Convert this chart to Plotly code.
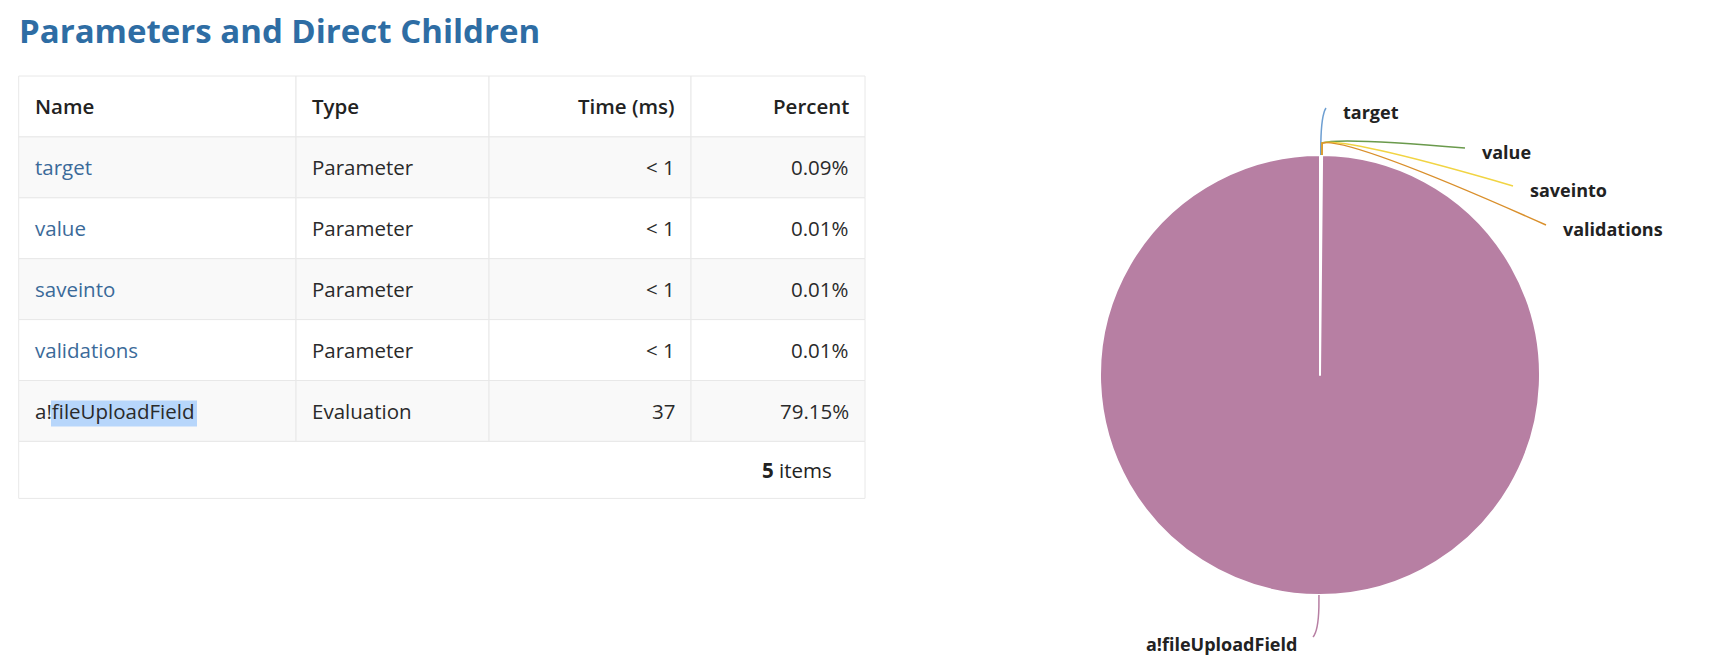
import math
import plotly.graph_objects as go

W, H = 1726, 671

# ---- data ----
columns = ['Name', 'Type', 'Time (ms)', 'Percent']
names = ['target', 'value', 'saveinto', 'validations', 'a!fileUploadField']
types = ['Parameter', 'Parameter', 'Parameter', 'Parameter', 'Evaluation']
times = ['< 1', '< 1', '< 1', '< 1', '37']
percents = [0.09, 0.01, 0.01, 0.01, 79.15]

# ---- style ----
slice_colors = ['#6e9fd2', '#6a9a4c', '#f1d443', '#d98f2b', '#b77fa3']
label_pos = [(1341, 112, 'left'), (1480, 152, 'left'), (1528, 190, 'left'),
             (1561, 229, 'left'), (1299, 644, 'right')]
col_edges = [18.7, 296, 489, 691, 865]
col_align = ['left', 'left', 'right', 'right']
table_top, row_h, footer_h = 76, 60.9, 57
grid = '#e8e8e8'
font = 'Open Sans, Noto Sans, sans-serif'
OFF = 8  # page body margin


def px(x, y):
    return (x - OFF) / W, 1 - (y - OFF) / H


fig = go.Figure()
shapes = []
annotations = []


def rect(x0, y0, x1, y1, fill, line=None, layer='below'):
    a, b = px(x0, y0)
    c, d = px(x1, y1)
    shapes.append(dict(type='rect', xref='paper', yref='paper', x0=a, x1=c, y0=d, y1=b,
                       fillcolor=fill, layer=layer,
                       line=dict(color=line or 'rgba(0,0,0,0)', width=1 if line else 0)))


def text(x, y, s, anchor, size, color, weight=400):
    a, b = px(x, y)
    annotations.append(dict(x=a, y=b, xref='paper', yref='paper', text=s, showarrow=False,
                            xanchor=anchor, yanchor='middle',
                            font=dict(family=font, size=size, color=color, weight=weight)))


# ---- table ----
rows = [[n, t, tm, f'{p:.2f}%'] for n, t, tm, p in zip(names, types, times, percents)]
n_rows = len(rows) + 1
for r in range(n_rows):
    y0 = table_top + r * row_h
    fill = '#f9f9f9' if r % 2 == 1 else 'white'
    for c in range(len(columns)):
        rect(col_edges[c], y0, col_edges[c + 1], y0 + row_h, fill, grid)
        cells = columns if r == 0 else rows[r - 1]
        if r == 0:
            color, weight = '#222222', 600
        elif c == 0 and types[r - 1] == 'Parameter':
            color, weight = '#3b6a99', 400
        else:
            color, weight = '#2a2a2a', 400
        tx = col_edges[c] + 14 if col_align[c] == 'left' else col_edges[c + 1] - 14
        if r == n_rows - 1 and c == 0:
            # selection highlight over "fileUploadField"
            rect(51, y0 + 20, 197, y0 + 46, '#b7d6fb')
        text(tx, y0 + row_h / 2, cells[c], col_align[c], 20.5, color, weight)

fy0 = table_top + n_rows * row_h
rect(col_edges[0], fy0, col_edges[-1], fy0 + footer_h, 'white', grid)
text(834, fy0 + footer_h / 2, f'<b>{len(names)}</b> items', 'right', 20.5, '#222222')

# ---- title ----
text(17, 30, 'Parameters and Direct Children', 'left', 33, '#2e6da4', 700)

# ---- pie ----
cx, cy, R = 1320, 375, 220
dx0, dy1 = px(cx - R, cy - R)
dx1, dy0 = px(cx + R, cy + R)
fig.add_trace(go.Pie(
    labels=names, values=percents, sort=False, direction='clockwise',
    marker=dict(colors=slice_colors, line=dict(color='white', width=2)),
    textinfo='none', hoverinfo='label+percent', showlegend=False,
    domain=dict(x=[dx0, dx1], y=[dy0, dy1]),
))

# connectors + labels, anchored at each slice's mid angle
total = sum(percents)
acc = 0
for name, val, col, (lx, ly, side) in zip(names, percents, slice_colors, label_pos):
    mid = (acc + val / 2) / total * 2 * math.pi
    acc += val
    sx, sy = cx + R * math.sin(mid), cy - R * math.cos(mid)
    ox, oy = cx + (R + 12) * math.sin(mid), cy - (R + 12) * math.cos(mid)
    ex = lx - 15 if side == 'left' else lx + 14
    ey = ly - 4 if ly < cy else ly - 7
    ddx, ddy = ex - ox, ey - oy
    if abs(ddy) > abs(ddx):
        qx, qy = ox + 0.1 * ddx, oy + 0.8 * ddy
    else:
        qx, qy = ox + 0.12 * ddx, oy - 6
    pts = [px(sx, sy), px(ox, oy), px(qx, qy), px(ex, ey)]
    path = 'M {0[0]},{0[1]} L {1[0]},{1[1]} Q {2[0]},{2[1]} {3[0]},{3[1]}'.format(*pts)
    shapes.append(dict(type='path', path=path, xref='paper', yref='paper',
                       line=dict(color=col, width=1.5), layer='above'))
    text(lx, ly, name, side, 18, '#222222', 700)

fig.update_layout(
    width=W, height=H, margin=dict(l=0, r=0, t=0, b=0),
    paper_bgcolor='white', plot_bgcolor='white',
    shapes=shapes, annotations=annotations,
)

fig.write_html('out.html')
